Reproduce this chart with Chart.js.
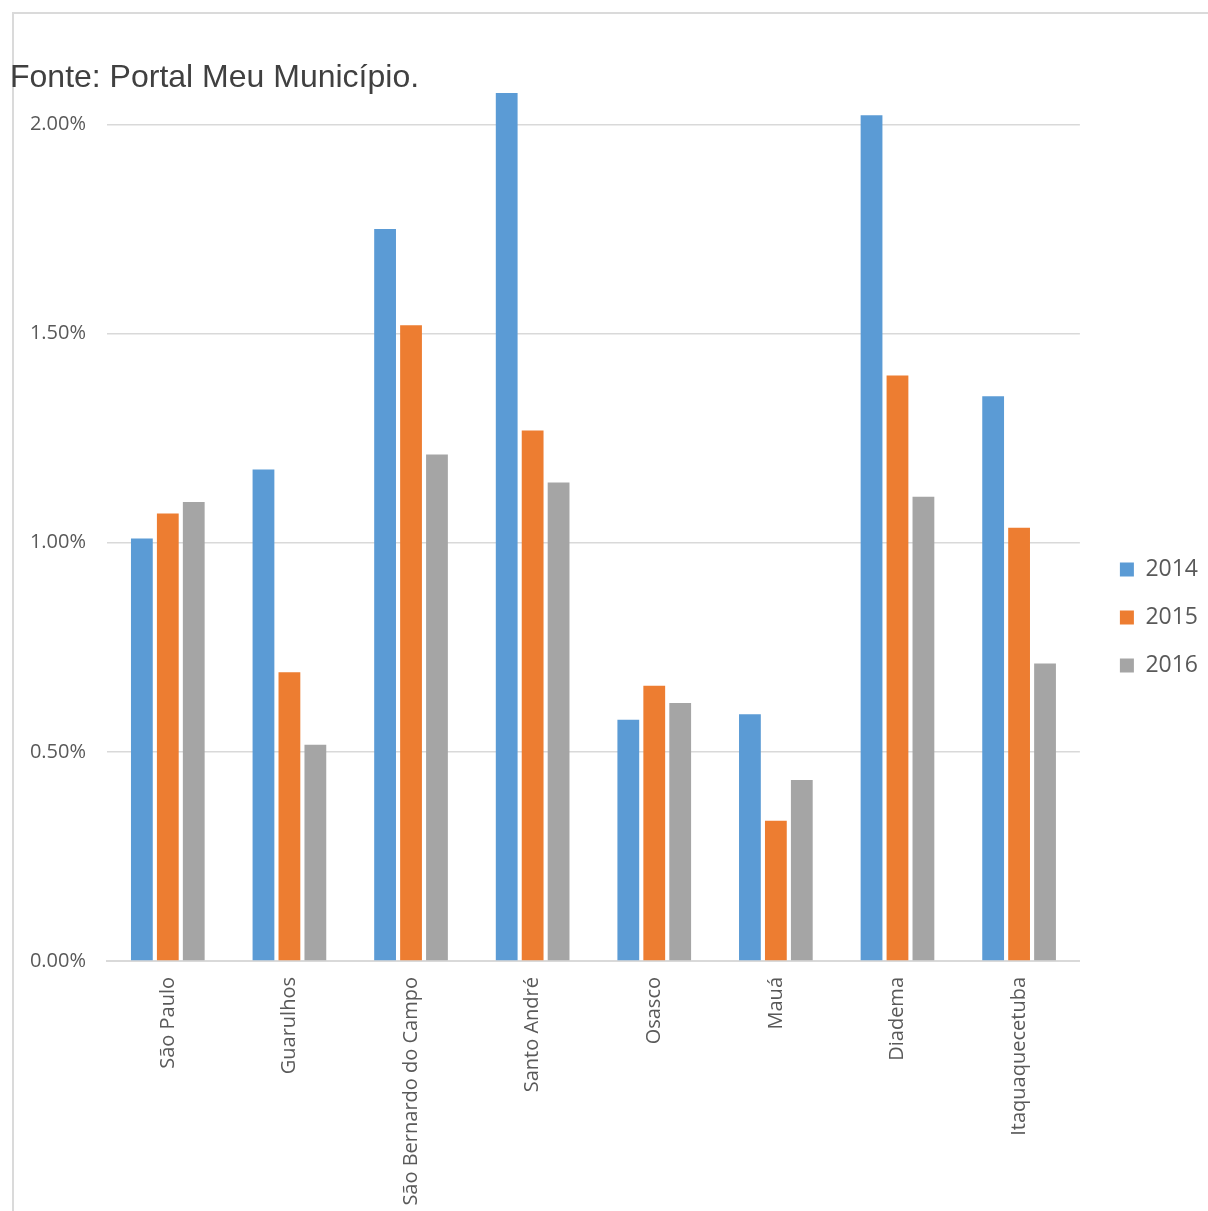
<!DOCTYPE html>
<html>
<head>
<meta charset="utf-8">
<script src="https://cdn.jsdelivr.net/npm/chart.js@4.4.1/dist/chart.umd.min.js"></script>
<style>
  body { margin: 0; background: #fff; }
  #wrap { position: relative; width: 1208px; height: 1211px; }
  #frame { position: absolute; left: 12px; top: 12px; right: 0; bottom: 0; border-top: 2px solid #dadada; border-left: 2px solid #dadada; }
  canvas { position: absolute; left: 0; top: 0; }
</style>
</head>
<body>
<div id="wrap">
  <div id="frame"></div>
  <canvas id="chart" width="1208" height="1211"></canvas>
</div>
<script>
// municípios e valores (%)
const cidades = ['São Paulo', 'Guarulhos', 'São Bernardo do Campo', 'Santo André', 'Osasco', 'Mauá', 'Diadema', 'Itaquaquecetuba'];
const v2014 = [1.01, 1.175, 1.75, 2.075, 0.577, 0.59, 2.022, 1.35];
const v2015 = [1.07, 0.69, 1.52, 1.268, 0.658, 0.335, 1.40, 1.036];
const v2016 = [1.097, 0.517, 1.211, 1.144, 0.617, 0.433, 1.11, 0.711];
const yTicks = [0, 0.5, 1.0, 1.5, 2.0];

const cinza = '#595959';

const ds = (label, data, color) => ({
    label: label,
    data: data,
    backgroundColor: color,
    borderWidth: 0,
    clip: false,
    barPercentage: 0.84,
    categoryPercentage: 0.64
});

// empurra a legenda um pouco para a direita e para baixo, como no original
const moveLegenda = {
    id: 'moveLegenda',
    afterLayout(chart) {
        const lg = chart.legend;
        lg.left += 15; lg.right += 15;
        lg.top += 12; lg.bottom += 12;
    }
};

new Chart(document.getElementById('chart'), {
    type: 'bar',
    data: {
        labels: cidades,
        datasets: [
            ds('2014', v2014, '#5B9BD5'),
            ds('2015', v2015, '#ED7D31'),
            ds('2016', v2016, '#A5A5A5')
        ]
    },
    plugins: [moveLegenda],
    options: {
        responsive: false,
        animation: false,
        layout: { padding: { left: 10, right: 15, bottom: 0, top: 0 } },
        plugins: {
            title: {
                display: true,
                text: 'Fonte: Portal Meu Município.',
                align: 'start',
                color: '#404040',
                font: { family: 'Liberation Sans', size: 32, weight: 'normal' },
                padding: { top: 59, bottom: 27 }
            },
            legend: {
                position: 'right',
                align: 'center',
                labels: {
                    boxWidth: 14,
                    boxHeight: 14,
                    padding: 25,
                    color: cinza,
                    font: { family: 'Open Sans', size: 23 }
                }
            },
            tooltip: { enabled: false }
        },
        scales: {
            x: {
                grid: { display: false },
                border: { color: '#d9d9d9', width: 2 },
                afterFit: (axis) => { axis.height = 250; },
                ticks: {
                    minRotation: 90,
                    maxRotation: 90,
                    color: cinza,
                    padding: 8,
                    font: { family: 'Open Sans', size: 20 }
                }
            },
            y: {
                min: 0,
                max: 2,
                afterBuildTicks: (axis) => { axis.ticks = yTicks.map(v => ({ value: v })); },
                afterFit: (axis) => { axis.width = 97; },
                grid: { color: '#d9d9d9', lineWidth: 1.5, drawTicks: false },
                border: { display: false },
                ticks: {
                    padding: 21,
                    color: cinza,
                    font: { family: 'Open Sans', size: 20 },
                    callback: (v) => v.toFixed(2) + '%'
                }
            }
        }
    }
});
</script>
</body>
</html>
